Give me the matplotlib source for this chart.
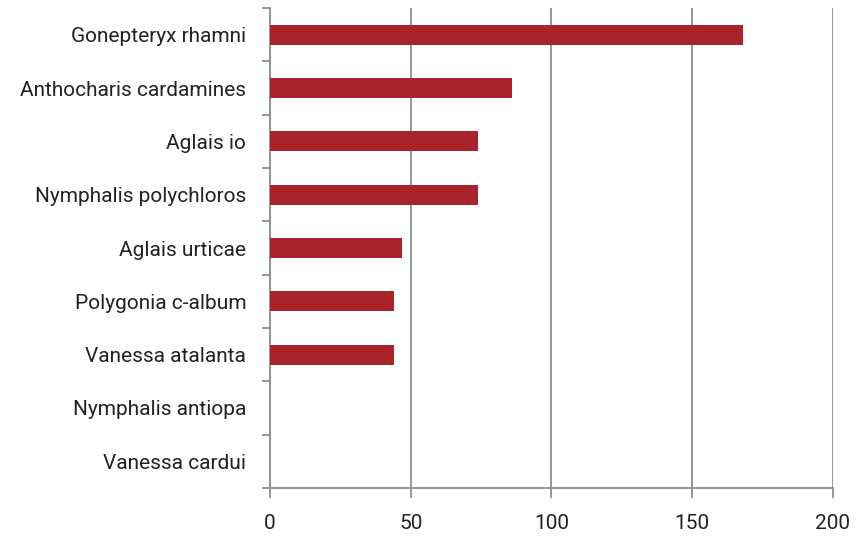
import numpy as np
import matplotlib.pyplot as plt

species = [
    "Gonepteryx rhamni",
    "Anthocharis cardamines",
    "Aglais io",
    "Nymphalis polychloros",
    "Aglais urticae",
    "Polygonia c-album",
    "Vanessa atalanta",
    "Nymphalis antiopa",
    "Vanessa cardui",
]
counts = [168, 86, 74, 74, 47, 44, 44, 0, 0]
xticks = [0, 50, 100, 150, 200]

plt.rcParams['font.family'] = ['Roboto', 'DejaVu Sans']

fig = plt.figure(figsize=(8.65, 5.36), dpi=100)
ax = fig.add_axes([0.3121, 0.0896, 0.6509, 0.8954])

y = np.arange(len(species))
ax.barh(y, counts, height=0.38, color="#a8232a", zorder=3)
ax.set_ylim(len(species) - 0.5, -0.5)
ax.set_xlim(0, 200)

ax.set_xticks(xticks)
ax.set_xticklabels([str(v) for v in xticks])
ax.set_yticks(y)
ax.set_yticklabels(species)
ax.set_yticks(np.arange(len(species) + 1) - 0.5, minor=True)

grid_c = "#8f8f8f"
ax.grid(axis="x", color=grid_c, linewidth=1.3, zorder=0)
for s in ["top", "right"]:
    ax.spines[s].set_visible(False)
for s in ["left", "bottom"]:
    ax.spines[s].set_color(grid_c)
    ax.spines[s].set_linewidth(1.3)

ax.tick_params(axis="y", which="major", length=0, pad=17, labelsize=15, labelcolor="#222222")
ax.tick_params(axis="y", which="minor", length=6, width=1.3, color=grid_c)
ax.tick_params(axis="x", length=7, width=1.3, color=grid_c, pad=12, labelsize=15, labelcolor="#222222")

fig.savefig("out.png", dpi=100)
